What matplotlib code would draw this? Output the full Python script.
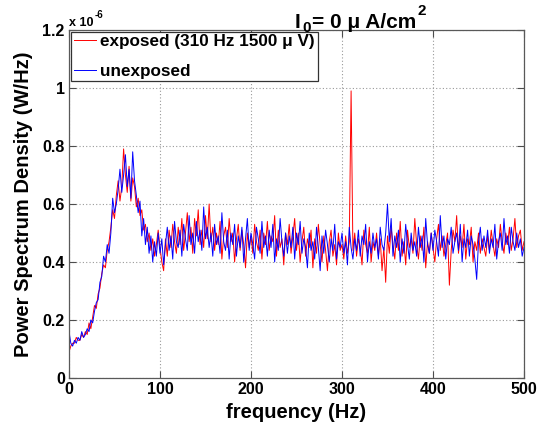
import numpy as np
import matplotlib
matplotlib.use("Agg")
import matplotlib.pyplot as plt

plt.rcParams['font.family'] = ['Liberation Sans', 'DejaVu Sans']
plt.rcParams['font.weight'] = 'bold'

# frequency grid (Hz), 2 Hz steps
freq = np.arange(0, 501, 2)

# PSD values, in units of 1e-6 W/Hz
exposed = [
    0.09, 0.11, 0.12, 0.12, 0.14, 0.13, 0.13, 0.15, 0.14, 0.16,
    0.15, 0.19, 0.17, 0.21, 0.25, 0.24, 0.29, 0.31, 0.36, 0.39,
    0.38, 0.44, 0.47, 0.52, 0.58, 0.55, 0.63, 0.68, 0.61, 0.66,
    0.79, 0.70, 0.64, 0.73, 0.61, 0.69, 0.66, 0.59, 0.62, 0.56,
    0.58, 0.51, 0.53, 0.47, 0.50, 0.44, 0.48, 0.42, 0.46, 0.51,
    0.45, 0.40, 0.37, 0.48, 0.42, 0.51, 0.45, 0.53, 0.47, 0.43,
    0.52, 0.46, 0.55, 0.44, 0.50, 0.57, 0.47, 0.52, 0.43, 0.55,
    0.49, 0.58, 0.46, 0.51, 0.45, 0.56, 0.48, 0.60, 0.47, 0.52,
    0.44, 0.50, 0.46, 0.54, 0.41, 0.49, 0.52, 0.45, 0.55, 0.47,
    0.50, 0.40, 0.48, 0.53, 0.44, 0.51, 0.46, 0.38, 0.50, 0.45,
    0.49, 0.43, 0.53, 0.47, 0.44, 0.51, 0.41, 0.50, 0.46, 0.54,
    0.44, 0.49, 0.47, 0.56, 0.42, 0.51, 0.45, 0.48, 0.39, 0.50,
    0.46, 0.53, 0.43, 0.49, 0.55, 0.44, 0.50, 0.40, 0.47, 0.52,
    0.42, 0.48, 0.45, 0.51, 0.38, 0.48, 0.43, 0.53, 0.46, 0.40,
    0.49, 0.44, 0.37, 0.47, 0.51, 0.42, 0.46, 0.39, 0.50, 0.44,
    0.46, 0.41, 0.49, 0.43, 0.47, 0.99, 0.44, 0.50, 0.42, 0.48,
    0.45, 0.39, 0.51, 0.46, 0.43, 0.52, 0.40, 0.47, 0.44, 0.50,
    0.42, 0.48, 0.37, 0.45, 0.33, 0.49, 0.43, 0.52, 0.46, 0.41,
    0.50, 0.44, 0.54, 0.42, 0.47, 0.39, 0.51, 0.45, 0.48, 0.43,
    0.55, 0.46, 0.41, 0.49, 0.44, 0.52, 0.38, 0.47, 0.43, 0.50,
    0.45, 0.40, 0.48, 0.53, 0.44, 0.49, 0.42, 0.46, 0.50, 0.32,
    0.44, 0.51, 0.47, 0.56, 0.43, 0.49, 0.45, 0.53, 0.41, 0.48,
    0.46, 0.52, 0.40, 0.47, 0.44, 0.50, 0.43, 0.48, 0.45, 0.42,
    0.49, 0.44, 0.51, 0.46, 0.42, 0.48, 0.45, 0.53, 0.47, 0.43,
    0.50, 0.46, 0.52, 0.44, 0.48, 0.55, 0.45, 0.49, 0.51, 0.44,
    0.47,
]

unexposed = [
    0.16, 0.12, 0.11, 0.13, 0.12, 0.14, 0.13, 0.16, 0.14, 0.15,
    0.17, 0.16, 0.20, 0.19, 0.23, 0.26, 0.27, 0.33, 0.35, 0.42,
    0.40, 0.46, 0.43, 0.50, 0.62, 0.57, 0.60, 0.65, 0.72, 0.64,
    0.70, 0.77, 0.66, 0.72, 0.62, 0.78, 0.68, 0.63, 0.57, 0.61,
    0.49, 0.55, 0.46, 0.52, 0.43, 0.49, 0.40, 0.47, 0.42, 0.50,
    0.43, 0.48, 0.39, 0.46, 0.52, 0.44, 0.49, 0.41, 0.54, 0.47,
    0.45, 0.51, 0.42, 0.53, 0.48, 0.44, 0.56, 0.46, 0.50, 0.43,
    0.54, 0.47, 0.51, 0.44, 0.59, 0.48, 0.52, 0.45, 0.50, 0.42,
    0.53, 0.46, 0.49, 0.43, 0.57, 0.47, 0.44, 0.51, 0.41, 0.50,
    0.46, 0.53, 0.42, 0.49, 0.45, 0.52, 0.40, 0.48, 0.55, 0.44,
    0.50, 0.46, 0.41, 0.52, 0.48, 0.43, 0.54, 0.45, 0.49, 0.42,
    0.51, 0.45, 0.53, 0.40, 0.48, 0.44, 0.55, 0.47, 0.42, 0.50,
    0.43, 0.49, 0.45, 0.52, 0.41, 0.50, 0.46, 0.54, 0.43, 0.48,
    0.45, 0.38, 0.50, 0.44, 0.47, 0.41, 0.52, 0.45, 0.37, 0.49,
    0.43, 0.51, 0.46, 0.40, 0.48, 0.44, 0.53, 0.41, 0.47, 0.45,
    0.50, 0.43, 0.47, 0.39, 0.52, 0.45, 0.41, 0.48, 0.44, 0.51,
    0.42, 0.49, 0.46, 0.53, 0.40, 0.47, 0.43, 0.50, 0.45, 0.48,
    0.41, 0.52, 0.46, 0.44, 0.50, 0.60, 0.47, 0.55, 0.42, 0.49,
    0.45, 0.51, 0.40, 0.48, 0.43, 0.53, 0.46, 0.41, 0.50, 0.44,
    0.47, 0.42, 0.52, 0.45, 0.49, 0.40, 0.55, 0.46, 0.43, 0.50,
    0.44, 0.51, 0.47, 0.42, 0.56, 0.45, 0.49, 0.41, 0.48, 0.46,
    0.52, 0.43, 0.47, 0.50, 0.44, 0.53, 0.40, 0.48, 0.45, 0.51,
    0.42, 0.49, 0.46, 0.41, 0.34, 0.47, 0.52, 0.44, 0.49, 0.45,
    0.51, 0.43, 0.48, 0.45, 0.53, 0.41, 0.47, 0.50, 0.44, 0.55,
    0.46, 0.49, 0.43, 0.52, 0.47, 0.44, 0.50, 0.45, 0.48, 0.42,
    0.45,
]

xticks = [0, 100, 200, 300, 400, 500]
yticks = [0, 0.2, 0.4, 0.6, 0.8, 1.0, 1.2]
ytick_labels = ['0', '0.2', '0.4', '0.6', '0.8', '1', '1.2']

W, H = 542, 428
fig = plt.figure(figsize=(W / 100, H / 100), dpi=100)
ax = fig.add_axes([69 / W, 1 - 378 / H, (524 - 69) / W, (378 - 30) / H])

ax.plot(freq, exposed, color='#ff0000', lw=0.7, label='exposed (310 Hz 1500 \u03bc V)')
ax.plot(freq, unexposed, color='#0000ff', lw=0.7, label='unexposed')

ax.set_xlim(0, 500)
ax.set_ylim(0, 1.2)
ax.set_xticks(xticks)
ax.set_yticks(yticks)
ax.set_yticklabels(ytick_labels)
ax.tick_params(direction='in', top=True, right=True, length=5, labelsize=11.5,
               color='0.3', pad=3)
for lab in ax.get_xticklabels() + ax.get_yticklabels():
    lab.set_fontweight('bold')
for s in ax.spines.values():
    s.set_color('0.35')
    s.set_linewidth(0.9)
ax.grid(True, color='0.6', linestyle=(0, (1, 2)), linewidth=0.8)

ax.set_xlabel('frequency (Hz)', fontsize=14.5, fontweight='bold', labelpad=4)
ax.set_ylabel('Power Spectrum Density (W/Hz)', fontsize=14.5, fontweight='bold', labelpad=7)

leg = ax.legend(loc='upper left', bbox_to_anchor=(0.005, 0.995), fontsize=12.3,
                frameon=True, fancybox=False, framealpha=1, borderpad=0.15,
                labelspacing=0.85, handlelength=1.3, handletextpad=0.25,
                borderaxespad=0.0)
leg.get_frame().set_edgecolor('0.2')
leg.get_frame().set_linewidth(0.9)
for t in leg.get_texts():
    t.set_fontweight('bold')

# pieces of text placed in pixel coordinates, chained left to right
renderer = fig.canvas.get_renderer()


def put(x, y, s, size):
    t = fig.text(x / W, 1 - y / H, s, fontsize=size, fontweight='bold',
                 ha='left', va='baseline')
    bb = t.get_window_extent(renderer)
    return bb.x1


# multiplier above the y axis
x = put(69, 26, 'x 10', 9)
put(x + 1.5, 18, '-6', 7)

# title I_0= 0 mu A/cm^2
x = put(295, 27.5, 'I', 15)
x = put(x + 1.5, 32.5, '0', 11)
x = put(x + 1.5, 27.5, '= 0 \u03bc A/cm', 15)
put(x + 1.5, 15, '2', 11)

fig.savefig('out.png', dpi=100)
